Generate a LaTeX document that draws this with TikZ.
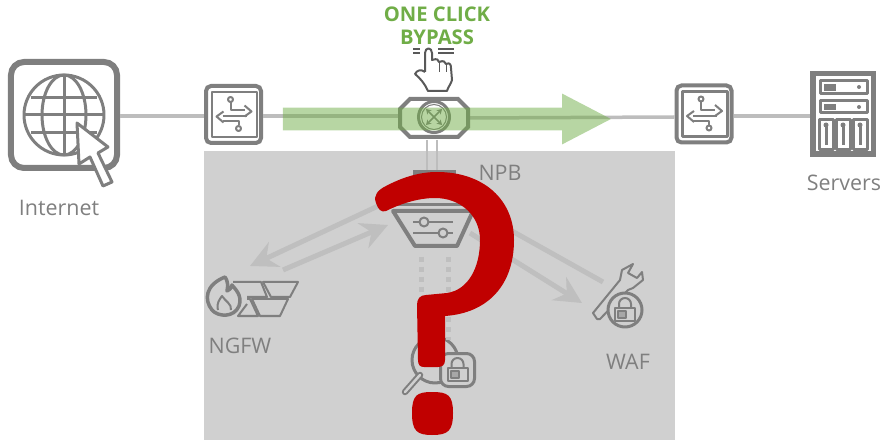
\documentclass[tikz,border=0pt]{standalone}
\usepackage{fontspec}
\setmainfont{Open Sans}
\usetikzlibrary{shapes.arrows, arrows.meta}

\definecolor{icongray}{HTML}{7F7F7F}
\definecolor{linkgray}{HTML}{BDBDBD}
\definecolor{faintgray}{HTML}{BFBFBF}
\definecolor{panelgray}{HTML}{D0D0D0}
\definecolor{clickgreen}{HTML}{70AD47}
\definecolor{handgray}{HTML}{595959}
\definecolor{markred}{HTML}{C00000}

\tikzset{
  link/.style={draw=linkgray, line width=0.7mm},
  flow/.style={draw=faintgray, line width=1mm, -{Stealth[length=5.4mm, width=5.4mm, inset=1.8mm]}},
  dots/.style={draw=faintgray, line width=1mm, dash pattern=on 1mm off 1mm},
  icon/.style={draw=icongray, line width=0.6mm, line join=round},
  thinicon/.style={draw=icongray, line width=0.4mm, line join=round},
  label/.style={text=icongray, font=\fontsize{12.2}{14}\selectfont, inner sep=0},
  switchbox/.style={draw=icongray, line width=0.8mm, fill=white, rounded corners=1mm, inner sep=0,
    minimum width=11mm, minimum height=11.4mm},
  switchglyph/.pic={
    \draw[thinicon, line width=0.5mm] (-21.5,-22.5) rectangle (23.5,22.5);
    \draw[thinicon] (-3,-12.5) -- (-3,-4) -- (11,-4);
    \draw[thinicon] (-3,-15) circle (2.5);
    \draw[thinicon] (11,-9) -- (18,-3) -- (11,2);
    \draw[thinicon] (-10,-3) -- (-17,2) -- (-10,8);
    \draw[thinicon] (-11,2) -- (13,2);
    \draw[thinicon] (-11,7) -- (5,7) -- (5,11);
    \draw[thinicon] (5,14) circle (2.5);
  },
  lockglyph/.pic={
    \draw[thinicon] (-10,-2) rectangle (10,11);
    \draw[thinicon] (-6,-2) -- (-6,-6) arc (180:360:6) -- (6,-2);
    \draw[thinicon, fill=icongray, fill opacity=0.5] (-7,1) rectangle (1,8);
  },
}

\begin{document}
\begin{tikzpicture}[x=0.2mm, y=-0.2mm]
  \useasboundingbox (0,0) rectangle (889,447);

  %% Devices
  % Internet and the two switches
  \node[draw=icongray, line width=1.2mm, rounded corners=2.6mm, inner sep=0, minimum size=21.2mm] (internet) at (64,115) {};
  \node[switchbox] (sw_left) at (233.5,114.5) {};
  \node[switchbox] (sw_right) at (704,114) {};

  % Servers rack
  \node[draw=icongray, fill=white, line width=1.1mm, inner sep=0, minimum width=12.1mm, minimum height=16.1mm] (servers) at (843,114) {};

  % Bypass switch
  \node[inner sep=0, minimum width=13.6mm, minimum height=7.8mm] (bypass) at (434,118) {};

  %% Connections
  \draw[link] (internet.east |- 0,116) -- (sw_left.west |- 0,116);
  \draw[link] (sw_left.east |- 0,116) -- (bypass.west |- 0,116);
  \draw[link] (bypass.east |- 0,118) -- (sw_right.west |- 0,117);
  \draw[link] (sw_right.east |- 0,116) -- (servers.west |- 0,116);
  \draw[draw=icongray, line width=0.8mm, fill=white, line join=miter] (410,99) -- (458,99) -- (468,109) -- (468,127) -- (458,137) -- (410,137) -- (400,127) -- (400,109) -- cycle;

  %% Inline panel
  \node[fill=panelgray, inner sep=0, minimum width=94.2mm, minimum height=57.8mm] (panel) at (439.5,295.5) {};

  % NPB top box and its two links
  \node[fill=icongray, inner sep=0, minimum width=8.6mm, minimum height=4mm] (npb_top) at (434,180) {};
  \coordinate (by_a) at (427,140);
  \coordinate (by_b) at (437,140);
  \draw[link, line width=0.5mm] (by_a) -- (by_a |- npb_top.north);
  \draw[link, line width=0.5mm] (by_b) -- (by_b |- npb_top.north);

  % NPB funnel
  \node[inner sep=0, minimum width=16mm, minimum height=8.2mm] (npb) at (433,226) {};
  \draw[icon] (393,205) -- (474,205);
  \draw[icon, line width=0.8mm] (393,211) -- (473,211) -- (457,246) -- (415,246) -- cycle;
  \draw[thinicon] (413,222) -- (453,222);
  \draw[thinicon] (413,233) -- (453,233);
  \draw[thinicon, fill=panelgray] (424,222) circle (4.5);
  \draw[thinicon, fill=panelgray] (443,233) circle (4.5);

  %% NGFW
  \node[inner sep=0, minimum width=18mm, minimum height=8mm] (ngfw) at (253,297) {};
  \draw[icon, line width=0.7mm] (225,277) .. controls (205,285) and (204,300) .. (212,310) .. controls (218,317) and (234,318) .. (239,306) .. controls (243,295) and (234,288) .. (232,285) .. controls (231,289) and (229,290) .. (227,291) .. controls (228,286) and (228,281) .. (225,277) -- cycle;
  \draw[thinicon] (218,310) .. controls (216,303) and (220,299) .. (222,296) .. controls (225,301) and (232,304) .. (231,310);
  \draw[thinicon] (263,282) -- (298,282) -- (290,297) -- (271,297) -- cycle;
  \draw[thinicon] (252,299) -- (288,299) -- (280,316) -- (260,316) -- cycle;
  \draw[thinicon] (233,282) -- (261,282) -- (267,297) -- (247,297);
  \draw[thinicon] (247,299) -- (250,299) -- (258,316) -- (238,316) -- (247,304);

  %% WAF
  \node[inner sep=0, minimum size=6.8mm] (waf) at (625,310) {};
  \draw[thinicon] (597,319) -- (593,313) -- (620,280) -- (622,270) -- (633,264) -- (628,273) -- (637,278) -- (642,272) -- (643,280) -- (633,288) -- (628,290) -- (600,319) -- cycle;
  \draw[icon, fill=panelgray] (waf) circle (17);
  \pic at (waf) {lockglyph};

  %% Inspection tool
  \node[inner sep=0, minimum size=9.2mm] (lens) at (435,360) {};
  \draw[icon] (lens) circle (23);
  \draw[draw=icongray, line width=1.3mm, line cap=round] (420,375) -- (405,392);
  \draw[draw=panelgray, line width=0.5mm, line cap=round] (420,375) -- (405,392);
  \node[draw=icongray, line width=0.6mm, fill=panelgray, rounded corners=1.6mm, inner sep=0, minimum width=6.8mm, minimum height=6.6mm] (lock_box) at (457.5,370) {};
  \pic at (lock_box) {lockglyph};

  %% Traffic arrows
  \draw[flow] (393,199) -- (250,266);
  \draw[flow] (283,270) -- (388,225);
  \draw[flow] (603,282) -- (478,212);
  \draw[flow] (470,233) -- (582,303);
  \draw[dots] (421,257) -- (421,340);
  \draw[dots] (448,257) -- (448,340);

  %% Glyphs
  % Internet globe
  \node[inner sep=0, minimum size=16mm] (globe) at (64,115) {};
  \draw[icon] (globe) circle (40);
  \draw[icon] (globe) ellipse (22 and 40);
  \draw[icon] (64,75) -- (64,155);
  \draw[icon] (24,115) -- (104,115);
  \draw[icon] (31,98) -- (97,98);
  \draw[icon] (31,133) -- (97,133);
  \draw[icon, fill=white] (77,123) -- (108,147) -- (98,153) -- (112,182) -- (103,186) -- (90,157) -- (79,164) -- cycle;

  \pic at (sw_left) {switchglyph};
  \pic at (sw_right) {switchglyph};

  % Server slots
  \draw[icon] (820,81) rectangle (867,94);
  \draw[icon] (820,101) rectangle (867,113);
  \foreach \slot in {819,836,853} {
    \draw[icon] (\slot,120) rectangle ++(14,30);
    \draw[thinicon, line width=0.6mm] (\slot+7,125) -- ++(0,20);
    \fill[icongray] (\slot+7,125) circle (2.5);
  }
  \fill[icongray] (824,84) rectangle (836,91);
  \fill[icongray] (824,104) rectangle (836,110);
  \fill[icongray] (859,87) circle (2);
  \fill[icongray] (859,107) circle (2);

  % Bypass ring
  \node[draw=icongray, line width=0.6mm, circle, inner sep=0, minimum size=6.2mm] (ring) at (434,117) {};
  \draw[thinicon, line width=0.2mm] (ring) circle (12.5);
  \draw[thinicon, line width=0.3mm, {Stealth[length=1mm, width=1.2mm]}-{Stealth[length=1mm, width=1.2mm]}] (426,109) -- (442,125);
  \draw[thinicon, line width=0.3mm, {Stealth[length=1mm, width=1.2mm]}-{Stealth[length=1mm, width=1.2mm]}] (442,109) -- (426,125);

  % Green bypass arrow
  \node[single arrow, fill=clickgreen, fill opacity=0.5, inner xsep=0, inner ysep=2.2mm, single arrow head extend=2.8mm, single arrow tip angle=55, minimum height=65.6mm] (bypass_arrow) at (436,119) {};

  % Hand pointer
  \node[inner sep=0, minimum width=7.4mm, minimum height=8.4mm] (hand) at (434,70) {};
  \draw[draw=handgray, line width=0.4mm, fill=white, line join=round] (425,72) -- (425,53) .. controls (425,47) and (432,47) .. (432,53) -- (432,60) .. controls (438,58) and (438,60) .. (439,62) .. controls (444,60) and (445,62) .. (446,64) .. controls (450,62) and (451,65) .. (451,68) -- (452,80) .. controls (451,84) and (448,87) .. (447,91) -- (428,91) .. controls (425,84) and (420,78) .. (415,74) .. controls (417,70) and (421,69) .. (425,72);
  \draw[draw=handgray, line width=0.2mm] (439,62) -- (439,72);
  \draw[draw=handgray, line width=0.2mm] (446,64) -- (446,72);
  \foreach \lineY in {49,53} {
    \draw[draw=handgray, line width=0.25mm] (413,\lineY) -- (420,\lineY);
    \draw[draw=handgray, line width=0.25mm] (438,\lineY) -- (454,\lineY);
  }

  %% Question mark
  \node[inner sep=0, minimum width=8mm, minimum height=8.4mm] (mark_dot) at (432.5,413) {};
  \fill[markred] (376,203) .. controls (373,195) and (378,190) .. (386,186) .. controls (403,177) and (420,172) .. (437,172) .. controls (484,172) and (514,200) .. (514,240) .. controls (514,285) and (488,313) .. (445,316) -- (445,360) .. controls (445,365) and (442,367) .. (438,367) -- (424,367) .. controls (420,367) and (418,365) .. (418,360) -- (417,305) .. controls (417,299) and (420,295) .. (426,295) -- (447,293) .. controls (468,290) and (480,268) .. (480,240) .. controls (480,215) and (460,198) .. (435,198) .. controls (418,198) and (400,204) .. (386,211) .. controls (381,213) and (378,209) .. (376,203) -- cycle;
  \fill[markred] (432,392) .. controls (448,392) and (453,395) .. (453,413) .. controls (453,431) and (448,435) .. (432,435) .. controls (417,435) and (412,431) .. (412,413) .. controls (412,395) and (417,392) .. (432,392) -- cycle;

  %% Labels
  \node[label] (internet_label) at (59,208) {Internet};
  \node[label] (servers_label) at (844,183) {Servers};
  \node[label] (npb_label) at (500,173) {NPB};
  \node[label] (ngfw_label) at (240,346) {NGFW};
  \node[label] (waf_label) at (628,362) {WAF};
  \node[text=clickgreen, font=\bfseries\fontsize{11.5}{13}\selectfont, inner sep=0] (click_label) at (437,14) {ONE CLICK};
  \node[text=clickgreen, font=\bfseries\fontsize{11.5}{13}\selectfont, inner sep=0] (bypass_label) at (437,37) {BYPASS};
\end{tikzpicture}
\end{document}
